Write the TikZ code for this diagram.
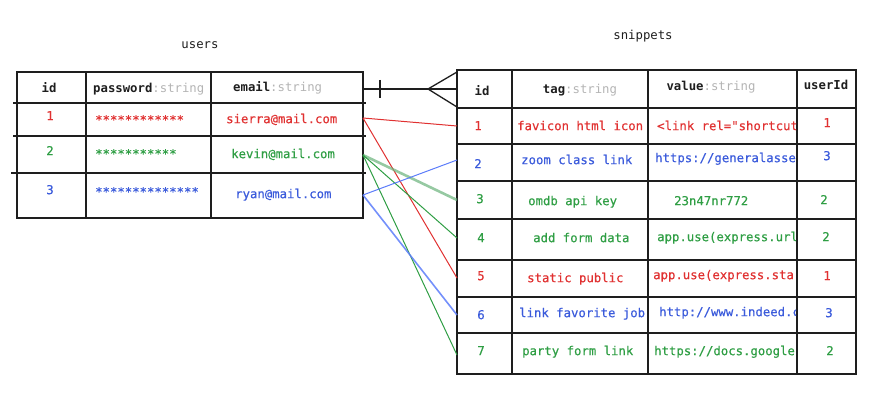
\documentclass[tikz,border=0pt]{standalone}
\usepackage{fontspec}
\setmonofont{DejaVu Sans Mono}
\newfontfamily\medmono[FakeBold=0.4]{DejaVu Sans Mono}
\definecolor{cred}{HTML}{E03131}
\definecolor{cgreen}{HTML}{2F9E44}
\definecolor{cblue}{HTML}{3B5BDB}
\definecolor{lblue}{HTML}{5C7CFA}
\definecolor{lgreen}{HTML}{69B27A}
\definecolor{cgray}{HTML}{B4B4B4}
\definecolor{ink}{HTML}{1E1E1E}
\begin{document}
\begin{tikzpicture}[x=1pt,y=-1pt,
  grid/.style={draw=ink, line width=1.3pt},
  txt/.style={font=\medmono\fontsize{12.3}{14}\selectfont, inner sep=0pt},
  hdr/.style={font=\ttfamily\bfseries\fontsize{12.3}{14}\selectfont, inner sep=0pt, text=ink},
  ttl/.style={font=\ttfamily\fontsize{12.3}{14}\selectfont, inner sep=0pt, text=ink},
  rl/.style={draw=cred, line width=1pt},
  gl/.style={draw=cgreen, line width=1pt},
  bl/.style={draw=lblue, line width=1pt},
  rel/.style={draw=ink, line width=1.3pt}
]
\useasboundingbox (0,0) rectangle (870,409);

% titles
\node[ttl, anchor=mid] (tusers) at (200,46) {users};
\node[ttl, anchor=mid] (tsnip) at (643,37) {snippets};

% users table grid
\draw[grid] (17,72) rectangle (363,218);
\draw[grid] (86,72) -- (86,218);
\draw[grid] (211,72) -- (211,218);
\draw[grid] (13,103) -- (366,103);
\draw[grid] (13,136) -- (366,136);
\draw[grid] (11,173) -- (366,173);

% users header
\node[hdr, anchor=mid] (uhid) at (49,90) {id};
\node[hdr, anchor=mid west] (uhpw) at (93,90) {password\textcolor{cgray}{\mdseries:string}};
\node[hdr, anchor=mid west] (uhem) at (233,89) {email\textcolor{cgray}{\mdseries:string}};

% users rows
\node[txt, text=cred, anchor=mid] (uid1) at (50,118) {1};
\node[txt, text=cred, anchor=mid west] (upw1) at (95,122) {************};
\node[txt, text=cred, anchor=mid west] (uem1) at (226,121) {sierra@mail.com};
\node[txt, text=cgreen, anchor=mid] (uid2) at (50,153) {2};
\node[txt, text=cgreen, anchor=mid west] (upw2) at (95,156) {***********};
\node[txt, text=cgreen, anchor=mid west] (uem2) at (231,156) {kevin@mail.com};
\node[txt, text=cblue, anchor=mid] (uid3) at (50,192) {3};
\node[txt, text=cblue, anchor=mid west] (upw3) at (95,194) {**************};
\node[txt, text=cblue, anchor=mid west] (uem3) at (235,196) {ryan@mail.com};

% snippets table grid
\draw[grid] (457,70) rectangle (856,374);
\draw[grid] (512,70) -- (512,374);
\draw[grid] (648,70) -- (648,374);
\draw[grid] (797,70) -- (797,374);
\foreach \yy in {108,144,181,219,260,297,333}
  \draw[grid] (457,\yy) -- (856,\yy);

% snippets header
\node[hdr, anchor=mid] (shid) at (482,93) {id};
\node[hdr, anchor=mid] (shtag) at (580,91) {tag\textcolor{cgray}{\mdseries:string}};
\node[hdr, anchor=mid] (shval) at (711,88) {value\textcolor{cgray}{\mdseries:string}};
\node[hdr, anchor=mid] (shuid) at (826,87) {userId};

% snippets rows: id and tag
\node[txt, text=cred,   anchor=mid] (sid1) at (478,128) {1};
\node[txt, text=cblue,  anchor=mid] (sid2) at (478,166) {2};
\node[txt, text=cgreen, anchor=mid] (sid3) at (480,201) {3};
\node[txt, text=cgreen, anchor=mid] (sid4) at (481,240) {4};
\node[txt, text=cred,   anchor=mid] (sid5) at (481,278) {5};
\node[txt, text=cblue,  anchor=mid] (sid6) at (481,317) {6};
\node[txt, text=cgreen, anchor=mid] (sid7) at (481,353) {7};

\node[txt, text=cred,   anchor=mid west] (stag1) at (517,128) {favicon html icon};
\node[txt, text=cblue,  anchor=mid west] (stag2) at (521,162) {zoom class link};
\node[txt, text=cgreen, anchor=mid west] (stag3) at (528,203) {omdb api key};
\node[txt, text=cgreen, anchor=mid west] (stag4) at (533,240) {add form data};
\node[txt, text=cred,   anchor=mid west] (stag5) at (527,280) {static public};
\node[txt, text=cblue,  anchor=mid west] (stag6) at (519,315) {link favorite job};
\node[txt, text=cgreen, anchor=mid west] (stag7) at (522,353) {party form link};

% values (clipped by the userId column)
\begin{scope}
\clip (649,100) rectangle (796,372);
\node[txt, text=cred,   anchor=mid west] (sval1) at (657,128) {<link rel="shortcut};
\node[txt, text=cblue,  anchor=mid west] (sval2) at (655,160) {https://generalasse};
\node[txt, text=cgreen, anchor=mid west] (sval3) at (674,203) {23n47nr772};
\node[txt, text=cgreen, anchor=mid west] (sval4) at (657,239) {app.use(express.url};
\node[txt, text=cred,   anchor=mid west] (sval5) at (653,277) {app.use(express.sta};
\node[txt, text=cblue,  anchor=mid west] (sval6) at (659,314) {http://www.indeed.c};
\node[txt, text=cgreen, anchor=mid west] (sval7) at (654,353) {https://docs.google.};
\end{scope}

% userId
\node[txt, text=cred,   anchor=mid] (suid1) at (827,125) {1};
\node[txt, text=cblue,  anchor=mid] (suid2) at (827,158) {3};
\node[txt, text=cgreen, anchor=mid] (suid3) at (824,202) {2};
\node[txt, text=cgreen, anchor=mid] (suid4) at (826,239) {2};
\node[txt, text=cred,   anchor=mid] (suid5) at (827,278) {1};
\node[txt, text=cblue,  anchor=mid] (suid6) at (829,315) {3};
\node[txt, text=cgreen, anchor=mid] (suid7) at (830,353) {2};

% relation (one-to-many)
\coordinate (ru) at (363,89);
\coordinate (rs) at (457,89);
\coordinate (rfork) at (428,89);
\coordinate (rtop) at (457,72);
\coordinate (rbot) at (457,107);
\coordinate (tk1) at (380,80);
\coordinate (tk2) at (380,98);
\draw[rel] (ru) -- (rs);
\draw[rel] (tk1) -- (tk2);
\draw[rel] (rtop) -- (rfork) -- (rbot);

% row connectors
\coordinate (cu1) at (363,118);
\coordinate (cu2) at (363,155);
\coordinate (cu3) at (363,195);
\coordinate (cs1) at (457,126);
\coordinate (cs2) at (457,160);
\coordinate (cs3) at (457,200);
\coordinate (cs4) at (457,238);
\coordinate (cs5) at (457,278);
\coordinate (cs6) at (457,315);
\coordinate (cs7) at (457,355);
\draw[rl] (cu1) -- (cs1);
\draw[rl] (cu1) -- (cs5);
\draw[draw=lgreen, line width=2.6pt, opacity=0.7] (cu2) -- (cs3);
\draw[gl] (cu2) -- (cs4);
\draw[gl] (cu2) -- (cs7);
\draw[bl] (cu3) -- (cs2);
\draw[draw=lblue, line width=1.6pt, opacity=0.85] (cu3) -- (cs6);
\end{tikzpicture}
\end{document}
